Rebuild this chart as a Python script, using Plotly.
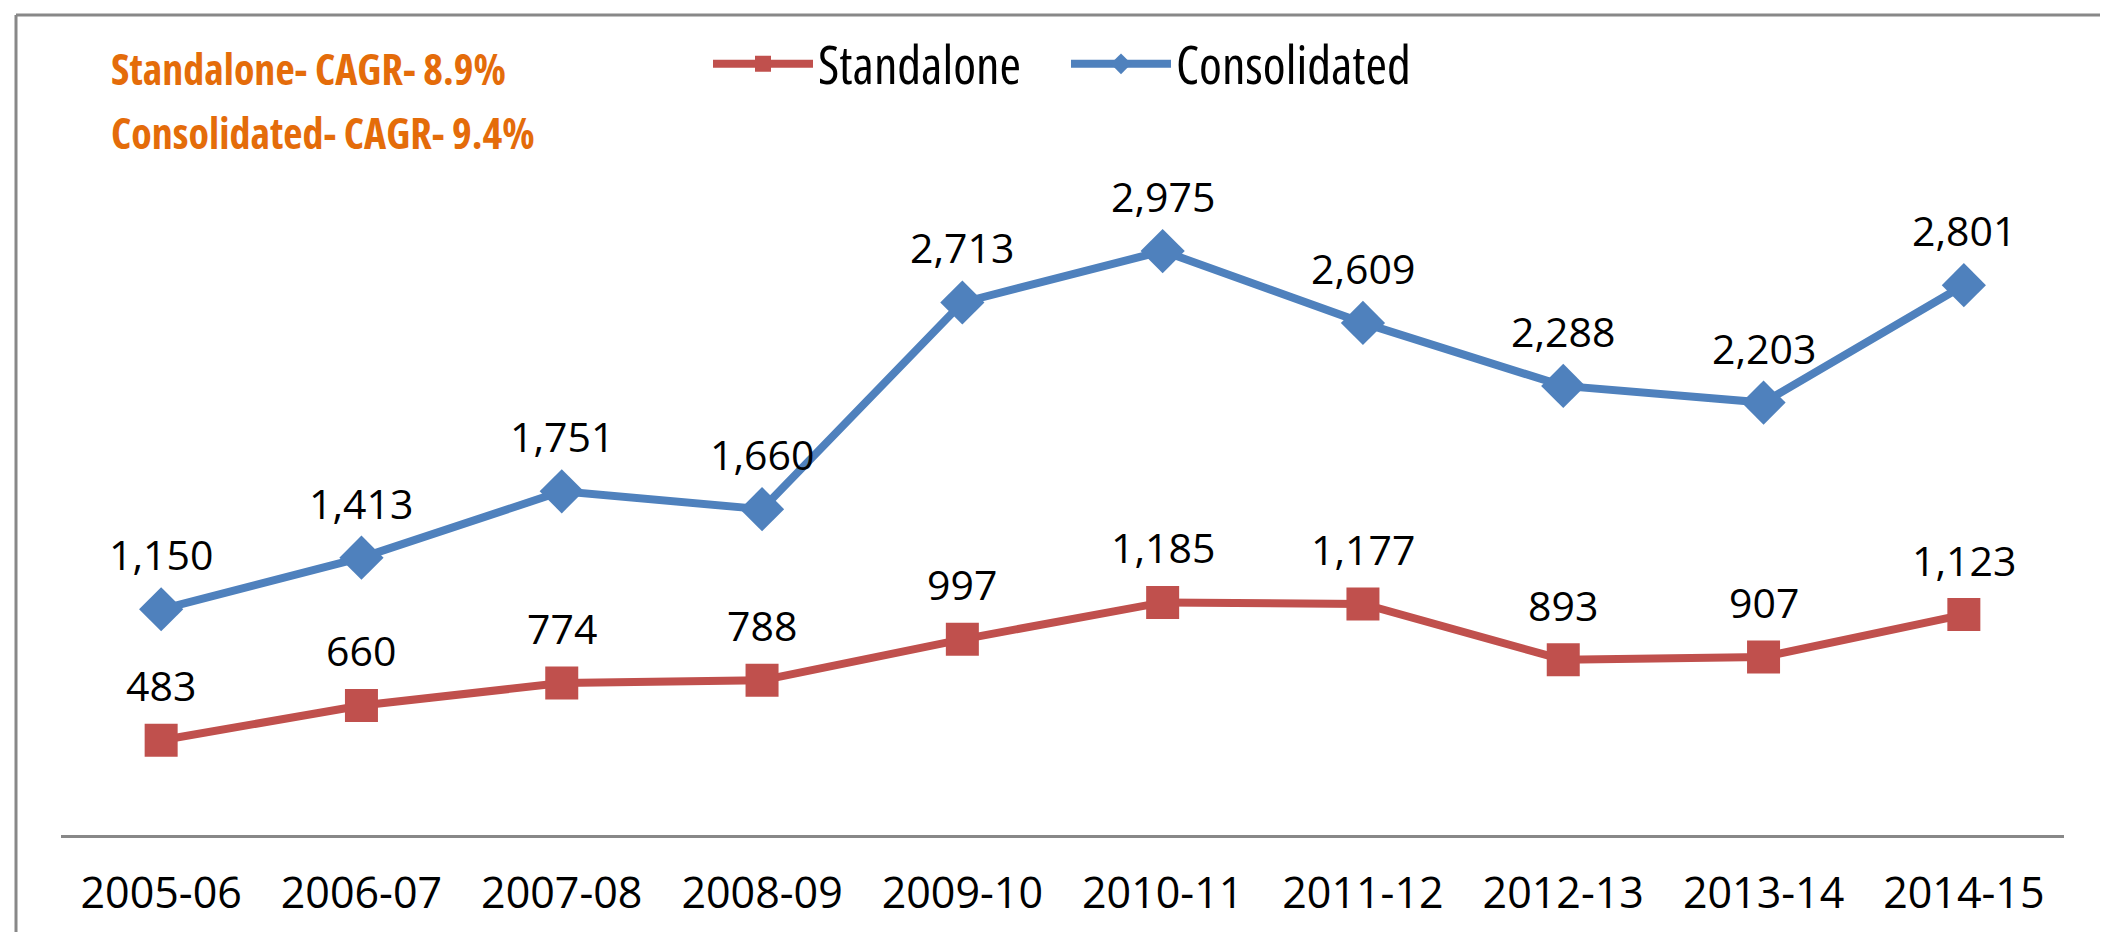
import plotly.graph_objects as go

years = ["2005-06", "2006-07", "2007-08", "2008-09", "2009-10",
         "2010-11", "2011-12", "2012-13", "2013-14", "2014-15"]
standalone = [483, 660, 774, 788, 997, 1185, 1177, 893, 907, 1123]
consolidated = [1150, 1413, 1751, 1660, 2713, 2975, 2609, 2288, 2203, 2801]
cagr_notes = ["Standalone- CAGR- 8.9%", "Consolidated- CAGR- 9.4%"]

RED = "#C0504D"
BLUE = "#4F81BD"
ORANGE = "#E46C0A"
GREY = "#888888"

W, H = 2108, 932
L, R, T, B = 53, 52, 140, 105
pw, ph = W - L - R, H - T - B

def px(x):
    return (x - L) / pw

def py(y):
    return (H - B - y) / ph

def stretched(s, how):
    return f"<span style='font-stretch:{how}'>{s}</span>"

fig = go.Figure()
fig.add_trace(go.Scatter(
    x=years, y=standalone, name=stretched("Standalone", "condensed"), mode="lines+markers",
    line=dict(color=RED, width=8),
    marker=dict(symbol="square", size=33, color=RED),
))
fig.add_trace(go.Scatter(
    x=years, y=consolidated, name=stretched("Consolidated", "condensed"), mode="lines+markers",
    line=dict(color=BLUE, width=8),
    marker=dict(symbol="diamond", size=34, color=BLUE),
))

annotations = []
for series in (standalone, consolidated):
    for xv, yv in zip(years, series):
        annotations.append(dict(
            x=xv, y=yv, xref="x", yref="y", text=f"{yv:,}", showarrow=False,
            yshift=55, yanchor="middle",
            font=dict(family="Open Sans", size=41, color="black"),
        ))

for i, note in enumerate(cagr_notes):
    annotations.append(dict(
        x=px(101), y=py(61 + i * 63), xref="paper", yref="paper",
        text=f"<b>{stretched(note, 'condensed')}</b>", showarrow=False,
        xanchor="left", yanchor="middle",
        font=dict(family="Open Sans", size=42, color=ORANGE),
    ))

shapes = [
    dict(type="line", xref="paper", yref="paper", x0=px(8), x1=px(W), y0=py(7), y1=py(7),
         line=dict(color=GREY, width=3)),
    dict(type="line", xref="paper", yref="paper", x0=px(8), x1=px(8), y0=py(7), y1=py(H),
         line=dict(color=GREY, width=3)),
]

fig.update_layout(
    width=W, height=H,
    margin=dict(l=L, r=R, t=T, b=B),
    paper_bgcolor="white", plot_bgcolor="white",
    showlegend=True,
    legend=dict(
        orientation="h", x=px(700), y=py(56), xanchor="left", yanchor="middle",
        font=dict(family="Open Sans", size=52, color="black"),
        itemwidth=100, entrywidth=243, bgcolor="rgba(0,0,0,0)",
    ),
    annotations=annotations,
    shapes=shapes,
    xaxis=dict(
        type="category", range=[-0.5, 9.5], showgrid=False, zeroline=False,
        showline=True, linecolor=GREY, linewidth=3, ticks="",
        ticklabelstandoff=18,
        tickfont=dict(family="Open Sans", size=43, color="black"),
    ),
    yaxis=dict(
        range=[0, 3500], showgrid=False, zeroline=False, showline=False,
        showticklabels=False, ticks="",
    ),
)

fig.write_html("out.html")
